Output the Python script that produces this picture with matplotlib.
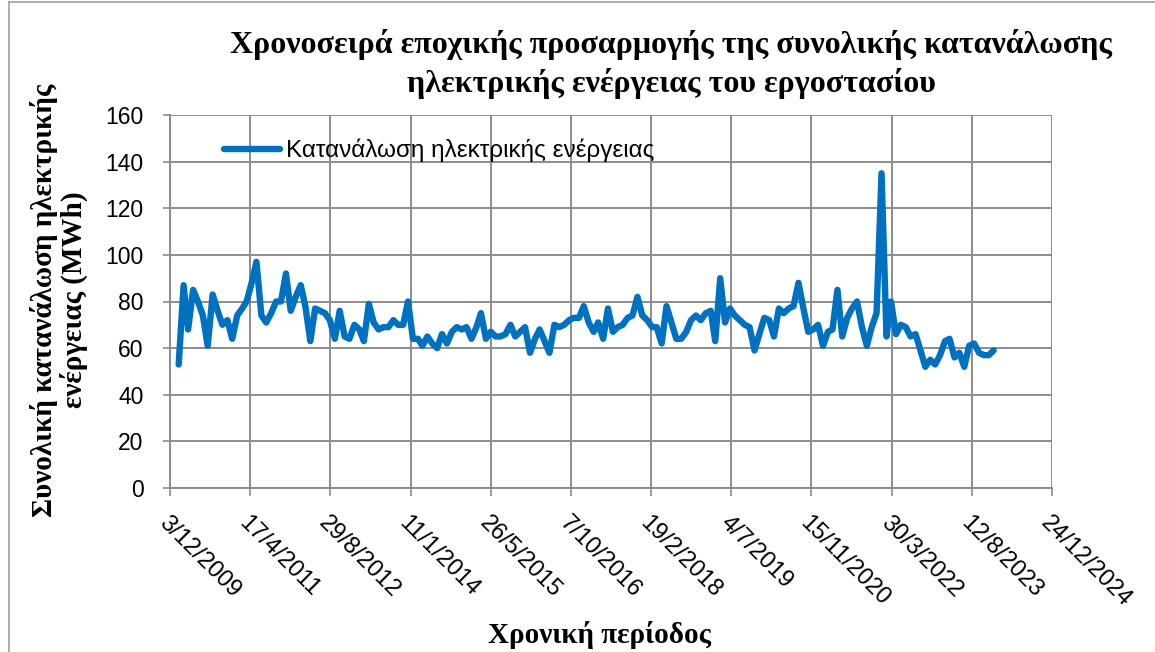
import matplotlib
matplotlib.use("Agg")
import matplotlib.pyplot as plt
from matplotlib.lines import Line2D
import pandas as pd

# monthly consumption (MWh), Jan 2010 - Dec 2023
consumption = [
    53, 87, 68, 85, 80, 74, 61, 83, 76, 70, 72, 64,
    74, 77, 80, 88, 97, 74, 71, 75, 80, 80, 92, 76,
    82, 87, 78, 63, 77, 76, 75, 72, 64, 76, 65, 64,
    70, 68, 63, 79, 71, 68, 69, 69, 72, 70, 70, 80,
    64, 64, 61, 65, 62, 60, 66, 62, 67, 69, 68, 69,
    64, 69, 75, 64, 67, 65, 65, 66, 70, 65, 67, 69,
    58, 64, 68, 63, 58, 70, 69, 70, 72, 73, 73, 78,
    71, 67, 71, 64, 77, 67, 69, 70, 73, 74, 82, 74,
    72, 69, 69, 62, 78, 71, 64, 64, 67, 72, 74, 72,
    75, 76, 63, 90, 71, 77, 74, 72, 70, 69, 59, 66,
    73, 72, 65, 77, 75, 77, 78, 88, 77, 67, 68, 70,
    61, 67, 68, 85, 65, 73, 77, 80, 69, 61, 69, 75,
    135, 65, 80, 66, 70, 69, 65, 66, 59, 52, 55, 53,
    57, 63, 64, 56, 58, 52, 61, 62, 58, 57, 57, 59,
]
dates = pd.date_range("2010-01-01", periods=len(consumption), freq="MS") + pd.Timedelta(days=25)

tick_start = pd.Timestamp("2009-12-03")
tick_labels = ["3/12/2009", "17/4/2011", "29/8/2012", "11/1/2014", "26/5/2015", "7/10/2016",
               "19/2/2018", "4/7/2019", "15/11/2020", "30/3/2022", "12/8/2023", "24/12/2024"]
tick_dates = [tick_start + pd.Timedelta(days=500 * k) for k in range(len(tick_labels))]
yticks = [0, 20, 40, 60, 80, 100, 120, 140, 160]

title = "Χρονοσειρά εποχικής προσαρμογής της συνολικής κατανάλωσης\nηλεκτρικής ενέργειας του εργοστασίου"
ylabel = "Συνολική κατανάλωση ηλεκτρικής\nενέργειας (MWh)"
xlabel = "Χρονική περίοδος"
series_name = "Κατανάλωση ηλεκτρικής ενέργειας"

W, H = 1155, 652
fig = plt.figure(figsize=(W / 100, H / 100), dpi=100)
ax = fig.add_axes([170 / W, 1 - 488 / H, (1052 - 170) / W, (488 - 115) / H])

grid_c = "#8c8c8c"
ax.plot(dates, consumption, color="#0070C0", lw=4.6, solid_joinstyle="round",
        solid_capstyle="round", label=series_name, zorder=3)

ax.set_xlim(tick_dates[0], tick_dates[-1])
ax.set_ylim(0, 160)
ax.set_xticks(tick_dates)
ax.set_xticklabels(tick_labels, rotation=-45, ha="left", va="top", rotation_mode="anchor",
                   fontsize=17, family="Liberation Sans")
ax.set_yticks(yticks)
ax.set_yticklabels([str(v) for v in yticks], fontsize=16.5, family="Liberation Sans")
ax.tick_params(axis="x", length=6, width=1.2, color=grid_c, pad=11)
ax.tick_params(axis="y", length=5, width=1.2, color=grid_c, pad=14)
ax.grid(True, color=grid_c, lw=1.4, zorder=0)
for s in ["top", "right"]:
    ax.spines[s].set_visible(False)
for s in ["left", "bottom"]:
    ax.spines[s].set_color(grid_c)
    ax.spines[s].set_linewidth(1.4)

leg = ax.legend(loc="upper left", bbox_to_anchor=(0.036, 0.995), frameon=False,
                prop={"family": "Liberation Sans", "size": 17.5}, handlelength=2.3,
                handletextpad=0.25)

fig.text(671 / W, 1 - 64 / H, title, ha="center", va="center", fontsize=23,
         fontweight="bold", family="Liberation Serif", linespacing=1.3)
fig.text(59 / W, 1 - 300 / H, ylabel, ha="center", va="center", rotation=90,
         fontsize=21, fontweight="bold", family="Liberation Serif", linespacing=1.1)
fig.text(600 / W, 1 - 635 / H, xlabel, ha="center", va="center", fontsize=21,
         fontweight="bold", family="Liberation Serif")

# chart-area border
fig.add_artist(Line2D([9 / W, 9 / W], [0, 1 - 2 / H], color="#a0a0a0", lw=1.2))
fig.add_artist(Line2D([9 / W, 1], [1 - 2 / H, 1 - 2 / H], color="#a0a0a0", lw=1.2))

fig.savefig("out.png", dpi=100)
